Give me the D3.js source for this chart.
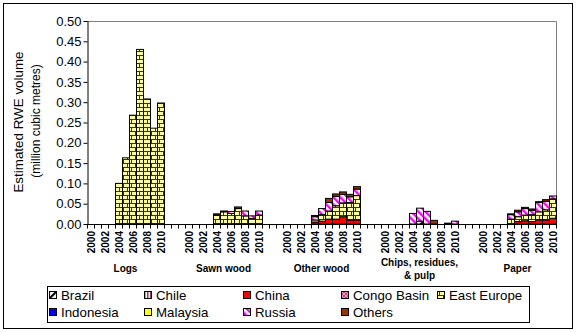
<!DOCTYPE html>
<html><head><meta charset="utf-8">
<script src="https://cdn.jsdelivr.net/npm/d3@7"></script>
<style>
body{margin:0;background:#fff;}
svg text{font-family:Arial,"Liberation Sans",sans-serif;}
</style></head>
<body><svg id="c" width="577" height="332"></svg>
<script>
const years = [2000,2001,2002,2003,2004,2005,2006,2007,2008,2009,2010];
const products = ["Logs","Sawn wood","Other wood","Chips, residues, & pulp","Paper"];
const productLabelLines = [["Logs"],["Sawn wood"],["Other wood"],["Chips, residues,","& pulp"],["Paper"]];
const seriesNames = ["Brazil","Chile","China","Congo Basin","East Europe","Indonesia","Malaysia","Russia","Others"];
const yTicks = [0,0.05,0.10,0.15,0.20,0.25,0.30,0.35,0.40,0.45,0.50];
const Z = [0,0,0,0,0,0,0,0,0,0,0];
// values per product (Logs, Sawn wood, Other wood, Chips, Paper), 2000-2010
const brazil = [Z, Z, Z, [0,0,0,0,0,0.007,0,0,0,0,0], Z];
const chile = [Z, Z, Z, Z, Z];
const china = [Z, Z,
  [0,0,0,0,0.005,0.007,0.012,0.012,0.018,0.010,0.010],
  Z,
  [0,0,0,0,0,0.006,0.008,0.006,0.010,0.010,0.014]];
const congoBasin = [Z, Z, Z, Z, Z];
const eastEurope = [
  [0,0,0,0,0.100,0.163,0.268,0.430,0.308,0.236,0.298],
  [0,0,0,0,0.022,0.030,0.026,0.038,0.020,0.014,0.022],
  [0,0,0,0,0.005,0.016,0.020,0.033,0.034,0.043,0.060],
  Z,
  [0,0,0,0,0.012,0.012,0.014,0.017,0.020,0.025,0.048]];
const indonesia = [Z, Z, Z, Z, Z];
const malaysia = [Z, Z, Z, Z, Z];
const russia = [Z,
  [0,0,0,0,0,0,0.005,0,0.012,0.006,0.010],
  [0,0,0,0,0.008,0.015,0.021,0.023,0.021,0.014,0.016],
  [0,0,0,0,0.026,0.032,0.031,0,0,0,0.007],
  [0,0,0,0,0.011,0.012,0.016,0.011,0.023,0.021,0.007]];
const others = [Z,
  [0,0,0,0,0.003,0.002,0,0.004,0,0,0],
  [0,0,0,0,0.003,0,0.010,0.006,0.006,0.006,0.006],
  [0,0,0,0,0,0,0,0.009,0,0.002,0],
  [0,0,0,0,0.002,0.004,0.003,0.003,0.002,0.004,0]];
const seriesData = [brazil, chile, china, congoBasin, eastEurope, indonesia, malaysia, russia, others];

const svg = d3.select("#c");
const defs = svg.append("defs");
function stripes(id, color, angle, w){
  const p = defs.append("pattern").attr("id",id).attr("patternUnits","userSpaceOnUse")
    .attr("width",5).attr("height",5).attr("patternTransform",`rotate(${angle})`);
  p.append("rect").attr("width",5).attr("height",5).attr("fill","#fff");
  p.append("rect").attr("width",w).attr("height",5).attr("fill",color);
}
stripes("pBrazil","#000",45,2.2);
stripes("pRussia","#ff00ff",-45,2.4);
{ const p = defs.append("pattern").attr("id","pChile").attr("patternUnits","userSpaceOnUse").attr("width",3).attr("height",3);
  p.append("rect").attr("width",3).attr("height",3).attr("fill","#fff");
  p.append("rect").attr("width",1.5).attr("height",3).attr("fill","#993366"); }
{ const p = defs.append("pattern").attr("id","pCongo").attr("patternUnits","userSpaceOnUse").attr("width",4).attr("height",4);
  p.append("rect").attr("width",4).attr("height",4).attr("fill","#ff99cc");
  p.append("path").attr("d","M0,4L4,0M0,0L4,4").attr("stroke","#993366").attr("stroke-width",0.8); }
{ const p = defs.append("pattern").attr("id","pBrick").attr("patternUnits","userSpaceOnUse").attr("width",8).attr("height",8);
  p.append("rect").attr("width",8).attr("height",8).attr("fill","#ffff99");
  p.append("rect").attr("x",0).attr("y",3).attr("width",8).attr("height",1).attr("fill","#a00000").attr("shape-rendering","crispEdges");
  p.append("rect").attr("x",0).attr("y",7).attr("width",8).attr("height",1).attr("fill","#a00000").attr("shape-rendering","crispEdges");
  p.append("rect").attr("x",3).attr("y",0).attr("width",1).attr("height",3).attr("fill","#a00000").attr("shape-rendering","crispEdges");
  p.append("rect").attr("x",7).attr("y",4).attr("width",1).attr("height",3).attr("fill","#a00000").attr("shape-rendering","crispEdges"); }
const fills = {"Brazil":"url(#pBrazil)","Chile":"url(#pChile)","China":"#ff0000","Congo Basin":"url(#pCongo)",
  "East Europe":"url(#pBrick)","Indonesia":"#0000ff","Malaysia":"#ffff00","Russia":"url(#pRussia)","Others":"#993300"};

svg.append("rect").attr("x",3.5).attr("y",3.5).attr("width",569).attr("height",325)
  .attr("fill","#fff").attr("stroke","#000");

const slots = [];
products.forEach((p,g)=>{
  years.forEach(yr=>slots.push({key:g+"|"+yr,g,year:yr}));
  if(g<products.length-1) for(let i=0;i<3;i++) slots.push({key:g+"|b"+i,g,year:null});
});
const L=87, R=556, T=21, B=224;
const x = d3.scaleBand().domain(slots.map(s=>s.key)).range([L,R]).padding(0);
const y = d3.scaleLinear().domain([0,0.5]).range([B,T]);

svg.append("path").attr("d",`M${L},${T+0.5}H${R+0.5}V${B}`).attr("fill","none").attr("stroke","#808080");

const rows = [];
products.forEach((p,g)=>years.forEach((yr,i)=>{
  const r = {key:g+"|"+yr};
  seriesNames.forEach((s,si)=>r[s]=seriesData[si][g][i]);
  rows.push(r);
}));
const stacked = d3.stack().keys(seriesNames)(rows);
svg.append("g").selectAll("g").data(stacked).join("g")
  .attr("fill",d=>fills[d.key])
  .selectAll("rect").data(d=>d.filter(v=>v[1]-v[0]>0)).join("rect")
  .attr("x",d=>x(d.data.key)+0.5).attr("width",x.bandwidth())
  .attr("y",d=>y(d[1])).attr("height",d=>y(d[0])-y(d[1]))
  .attr("stroke","#000").attr("stroke-width",1);

const ya = svg.append("g").attr("transform",`translate(${L+0.5},0)`)
  .call(d3.axisLeft(y).tickValues(yTicks).tickFormat(d3.format(".2f")).tickSize(4).tickSizeOuter(0));
ya.select(".domain").attr("stroke","#000");
ya.selectAll("line").attr("stroke","#000");
ya.selectAll("text").attr("font-size","13px").attr("font-family","Arial").attr("fill","#000").attr("x",-6);

const xa = svg.append("g");
xa.append("line").attr("x1",L).attr("x2",R+1).attr("y1",B+0.5).attr("y2",B+0.5).attr("stroke","#000");
const bounds = slots.map(s=>x(s.key)).concat([R]);
xa.selectAll("line.t").data(bounds).join("line").attr("class","t")
  .attr("x1",d=>Math.round(d)+0.5).attr("x2",d=>Math.round(d)+0.5).attr("y1",B).attr("y2",B+4.5).attr("stroke","#000");
xa.selectAll("text.yr").data(slots.filter(s=>s.year!==null && s.year%2===0)).join("text").attr("class","yr")
  .attr("transform",d=>`translate(${x(d.key)+x.bandwidth()/2+4},${B+7}) rotate(-90)`)
  .attr("text-anchor","end").attr("font-size","10px").attr("font-weight","bold").text(d=>d.year);
productLabelLines.forEach((lines,g)=>{
  const cx = (x(g+"|2000")+x(g+"|2010")+x.bandwidth())/2;
  const y0 = lines.length>1 ? 266 : 272;
  lines.forEach((t,i)=>svg.append("text").attr("x",cx).attr("y",y0+i*13)
    .attr("text-anchor","middle").attr("font-size","10px").attr("font-weight","bold").text(t));
});

svg.append("text").attr("transform","translate(23,122) rotate(-90)").attr("text-anchor","middle")
  .attr("font-size","13.4px").text("Estimated RWE volume");
svg.append("text").attr("transform","translate(40,121) rotate(-90)").attr("text-anchor","middle")
  .attr("font-size","12px").text("(million cubic metres)");

svg.append("rect").attr("x",47.5).attr("y",286.5).attr("width",482).attr("height",36)
  .attr("fill","#fff").attr("stroke","#000");
const colX = [49,144,243,341,437];
seriesNames.forEach((s,i)=>{
  const r = Math.floor(i/5), c = i%5;
  const gx = colX[c], gy = r===0 ? 295 : 312;
  svg.append("rect").attr("x",gx+0.5).attr("y",gy-3.5).attr("width",7).attr("height",7)
    .attr("fill",fills[s]).attr("stroke","#000");
  svg.append("text").attr("x",gx+12).attr("y",gy+5).attr("font-size","13.3px").text(s);
});
</script></body></html>
